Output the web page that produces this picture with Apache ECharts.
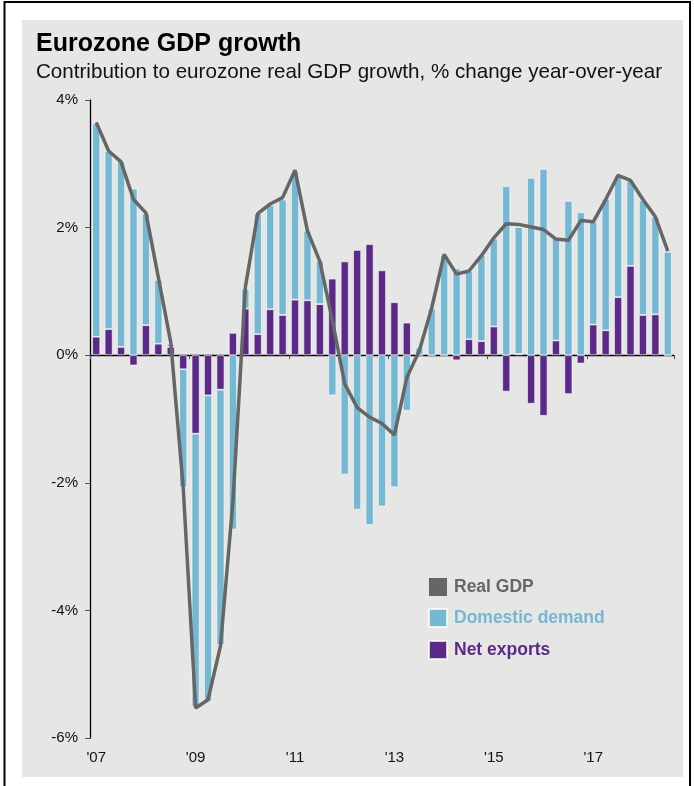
<!DOCTYPE html>
<html>
<head>
<meta charset="utf-8">
<script src="https://cdn.jsdelivr.net/npm/echarts@6/dist/echarts.min.js"></script>
<style>
html,body{margin:0;padding:0;background:#fff;}
#chart{width:694px;height:786px;}
</style>
</head>
<body>
<div id="chart"></div>
<script>
// Quarterly categories 2007Q1 .. 2018Q3
const quarters = [];
for (let y = 2007; y <= 2018; y++) {
  for (let q = 1; q <= 4; q++) {
    if (y === 2018 && q === 4) break;
    quarters.push(y + 'Q' + q);
  }
}
const yearLabels = ["'07", "'09", "'11", "'13", "'15", "'17"];

const realGDP = [3.65, 3.2, 3.03, 2.44, 2.23, 1.22, 0.2, -2.07,
  -5.53, -5.4, -4.56, -2.3, 1.06, 2.22, 2.37, 2.47,
  2.9, 1.95, 1.47, 0.55, -0.45, -0.82, -0.97, -1.07,
  -1.25, -0.35, 0.07, 0.74, 1.58, 1.27, 1.32, 1.56,
  1.84, 2.06, 2.05, 2.01, 1.97, 1.82, 1.8, 2.11,
  2.09, 2.44, 2.82, 2.74, 2.44, 2.17, 1.63];

const domesticDemand = [3.34, 2.79, 2.91, 2.61, 1.75, 1.0, 0.05, -1.85,
  -4.28, -4.8, -4.0, -2.73, 0.31, 1.89, 1.63, 1.81,
  2.01, 1.09, 0.68, -0.63, -1.87, -2.42, -2.66, -2.37,
  -2.07, -0.87, 0.12, 0.73, 1.57, 1.36, 1.07, 1.35,
  1.38, 2.65, 1.99, 2.78, 2.92, 1.61, 2.42, 2.24,
  1.61, 2.06, 1.91, 1.34, 1.8, 1.53, 1.62];

const netExports = [0.29, 0.41, 0.13, -0.16, 0.47, 0.18, 0.13, -0.22,
  -1.23, -0.63, -0.54, 0.35, 0.73, 0.33, 0.72, 0.63,
  0.87, 0.86, 0.8, 1.2, 1.47, 1.65, 1.74, 1.33,
  0.83, 0.51, -0.03, 0.0, 0.0, -0.08, 0.25, 0.22,
  0.45, -0.57, 0.02, -0.76, -0.95, 0.23, -0.61, -0.13,
  0.48, 0.39, 0.91, 1.4, 0.63, 0.64, 0.0];

const yTicks = {min: -6, max: 4, step: 2};

const FONT = 'Arial, "Liberation Sans", sans-serif';
const C_GDP = '#666666', C_DOM = '#74b8d3', C_NET = '#5b2a88';

const chart = echarts.init(document.getElementById('chart'));
chart.setOption({
  animation: false,
  backgroundColor: '#ffffff',
  textStyle: {fontFamily: FONT},
  graphic: [
    {type: 'rect', z: -10, shape: {x: 22, y: 20, width: 661, height: 757}, style: {fill: '#e6e6e4'}},
    {type: 'rect', z: -9, shape: {x: 4.5, y: 2, width: 685.5, height: 800}, style: {fill: 'none', stroke: '#000', lineWidth: 2}}
  ],
  title: {
    text: 'Eurozone GDP growth',
    subtext: 'Contribution to eurozone real GDP growth, % change year-over-year',
    left: 31, top: 27, itemGap: 5,
    textStyle: {fontFamily: FONT, fontSize: 25, fontWeight: 'bold', color: '#000'},
    subtextStyle: {fontFamily: FONT, fontSize: 20.6, color: '#111'}
  },
  legend: {
    orient: 'vertical', left: 423, top: 573, itemWidth: 18, itemHeight: 18, itemGap: 12,
    data: [
      {name: 'Real GDP', icon: 'rect', itemStyle: {color: C_GDP}, textStyle: {color: C_GDP}},
      {name: 'Domestic demand', icon: 'rect', itemStyle: {color: C_DOM}, textStyle: {color: C_DOM}},
      {name: 'Net exports', icon: 'rect', itemStyle: {color: C_NET}, textStyle: {color: C_NET}}
    ],
    textStyle: {fontFamily: FONT, fontSize: 17.5, fontWeight: 'bold', padding: [0, 0, 0, 2]}
  },
  grid: {left: 90, right: 20, top: 100, bottom: 48, containLabel: false},
  xAxis: [
    {
      type: 'category', data: quarters, boundaryGap: true,
      axisLine: {onZero: true, lineStyle: {color: '#000', width: 1.3}},
      axisTick: {show: true, interval: 7, length: 4, lineStyle: {color: '#555'}},
      axisLabel: {show: false}, splitLine: {show: false}
    },
    {
      type: 'category', data: quarters, position: 'bottom', boundaryGap: true,
      axisLine: {show: false, onZero: false}, axisTick: {show: false},
      axisLabel: {
        interval: 7, margin: 12, fontSize: 15, color: '#111', fontFamily: FONT,
        formatter: function (v, i) { return yearLabels[Math.floor(i / 8)] || ''; }
      }
    }
  ],
  yAxis: {
    type: 'value', min: yTicks.min, max: yTicks.max, interval: yTicks.step,
    axisLine: {show: true, lineStyle: {color: '#000', width: 1.3}},
    axisTick: {show: true, length: 5, lineStyle: {color: '#555'}},
    splitLine: {show: false},
    axisLabel: {formatter: '{value}%', fontSize: 15, color: '#111', margin: 12, fontFamily: FONT}
  },
  series: [
    {
      name: 'Net exports', type: 'bar', stack: 'c', data: netExports, barWidth: 8,
      itemStyle: {color: C_NET, borderColor: 'rgba(255,255,255,0.75)', borderWidth: 0.8}, z: 2
    },
    {
      name: 'Domestic demand', type: 'bar', stack: 'c', data: domesticDemand, barWidth: 8,
      itemStyle: {color: C_DOM, borderColor: 'rgba(255,255,255,0.75)', borderWidth: 0.8}, z: 2
    },
    {
      name: 'Real GDP', type: 'line', data: realGDP, showSymbol: false, symbol: 'none',
      lineStyle: {color: C_GDP, width: 3.5}, itemStyle: {color: C_GDP}, z: 5
    }
  ]
});
</script>
</body>
</html>
